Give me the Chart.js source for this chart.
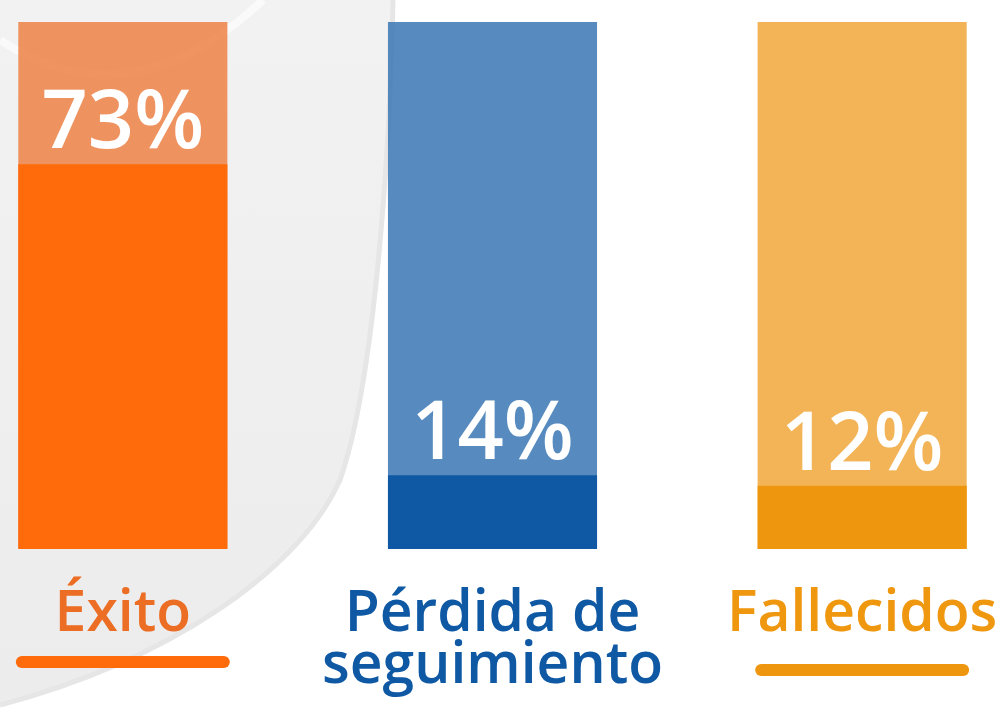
<!DOCTYPE html>
<html>
<head>
<meta charset="utf-8">
<script src="https://cdn.jsdelivr.net/npm/chart.js@4.4.1/dist/chart.umd.min.js"></script>
<style>
  html, body { margin: 0; padding: 0; width: 1008px; height: 708px; overflow: hidden; background: #ffffff; }
  #bg { position: absolute; left: 0; top: 0; width: 1008px; height: 708px; }
  #wrap { position: absolute; left: -62px; top: 0; width: 1109px; height: 708px; }
</style>
</head>
<body>
<svg id="bg" width="1008" height="708" viewBox="0 0 1008 708">
  <defs>
    <linearGradient id="g" x1="0" y1="0" x2="0" y2="1">
      <stop offset="0" stop-color="#f2f2f2"/>
      <stop offset="1" stop-color="#ececec"/>
    </linearGradient>
  </defs>
  <path d="M0,0 L393,0 C390,150 375,380 340,480 C300,570 170,660 0,705 Z" fill="url(#g)"/>
  <path d="M393,0 C390,150 375,380 340,480 C300,570 170,660 0,705" fill="none" stroke="#e6e6e6" stroke-width="5"/>
  <path d="M0,40 Q130,125 263,0" fill="none" stroke="rgba(255,255,255,0.6)" stroke-width="8"/>
</svg>
<div id="wrap"><canvas id="c"></canvas></div>
<script>
// ---- data ----
const categories = ["Éxito", ["Pérdida de", "seguimiento"], "Fallecidos"];
const values = [73, 14, 12];
const fullScale = [100, 100, 100];
const valueLabels = ["73%", "14%", "12%"];

// ---- styles ----
const darkColors = ["#FF6B0A", "#0F59A4", "#EE970E"];
const lightColors = ["rgba(237,131,71,0.85)", "rgba(57,119,180,0.85)", "rgba(240,167,57,0.85)"];
const labelColors = ["#EC6D24", "#0F58A3", "#EE970F"];
const underline = [true, false, true];
const underlineY = [662, 0, 670];
const FONT = "'Open Sans', 'DejaVu Sans', sans-serif";

const valueLabelPlugin = {
  id: 'valueLabels',
  afterDatasetsDraw(chart) {
    const ctx = chart.ctx;
    const meta = chart.getDatasetMeta(0);
    ctx.save();
    ctx.fillStyle = '#ffffff';
    ctx.font = "600 81px " + FONT;
    ctx.textAlign = 'center';
    ctx.textBaseline = 'alphabetic';
    meta.data.forEach((bar, i) => {
      ctx.fillText(valueLabels[i], bar.x, bar.y - 16);
    });
    ctx.restore();
  }
};

const underlinePlugin = {
  id: 'underlines',
  afterDraw(chart) {
    const ctx = chart.ctx;
    const xs = chart.scales.x;
    ctx.save();
    ctx.lineCap = 'round';
    ctx.lineWidth = 12;
    categories.forEach((c, i) => {
      if (!underline[i]) return;
      const cx = xs.getPixelForValue(i);
      ctx.strokeStyle = i === 0 ? "#FF6B0A" : "#EE970E";
      ctx.beginPath();
      ctx.moveTo(cx - 101, underlineY[i]);
      ctx.lineTo(cx + 101, underlineY[i]);
      ctx.stroke();
    });
    ctx.restore();
  }
};

new Chart(document.getElementById('c'), {
  type: 'bar',
  data: {
    labels: categories,
    datasets: [
      {
        data: values,
        backgroundColor: darkColors,
        grouped: false,
        barPercentage: 1,
        categoryPercentage: 0.5656
      },
      {
        data: fullScale,
        backgroundColor: lightColors,
        grouped: false,
        barPercentage: 1,
        categoryPercentage: 0.5656
      }
    ]
  },
  options: {
    responsive: true,
    maintainAspectRatio: false,
    animation: false,
    layout: { padding: { top: 22, left: 0, right: 0, bottom: 0 } },
    plugins: { legend: { display: false }, tooltip: { enabled: false } },
    scales: {
      x: {
        grid: { display: false, drawTicks: false },
        border: { display: false },
        afterFit(scale) { scale.height = 159; },
        ticks: {
          autoSkip: false,
          maxRotation: 0,
          minRotation: 0,
          padding: 40,
          color: labelColors,
          font: { family: FONT, size: 57, weight: '600', lineHeight: 52 / 57 }
        }
      },
      y: {
        display: false,
        min: 0,
        max: 100
      }
    }
  },
  plugins: [valueLabelPlugin, underlinePlugin]
});
</script>
</body>
</html>
